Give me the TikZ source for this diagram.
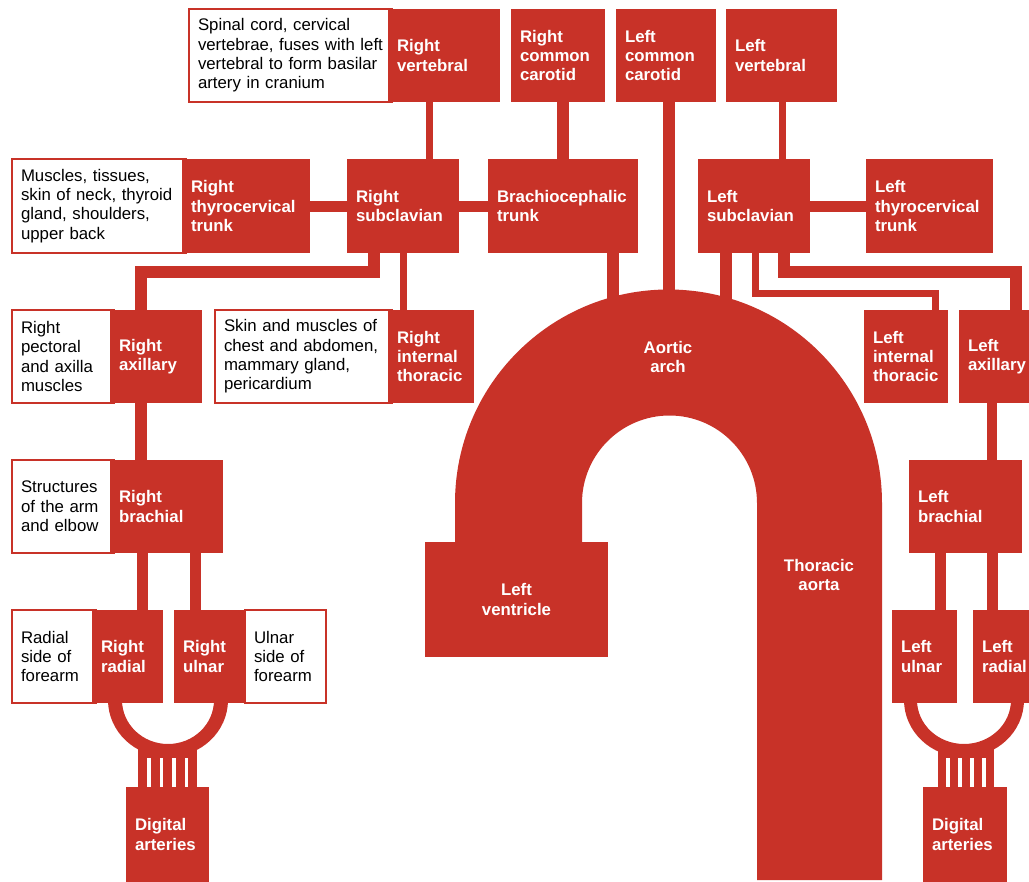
\documentclass[tikz,border=0pt]{standalone}
\usepackage{fontspec}
\setmainfont{Liberation Sans}
\definecolor{art}{RGB}{200,50,40}
\tikzset{
  basebox/.style={anchor=north west, inner xsep=9pt, inner ysep=0pt, outer sep=0pt},
  rbox/.style={basebox, fill=art, text=white, font=\bfseries\fontsize{16.8}{19.3}\selectfont, align=left},
  wbox/.style={basebox, draw=art, line width=1.5pt, fill=white, text=black, font=\fontsize{16.8}{19.3}\selectfont, align=left},
  wire/.style={draw=art, line width=12pt},
  thinwire/.style={draw=art, line width=7pt},
  atext/.style={text=white, font=\bfseries\fontsize{16.8}{19.3}\selectfont, align=center},
}
\newcommand\mkbox[7]{%
  \pgfmathsetmacro\bxw{#5-#3}%
  \pgfmathsetmacro\bxh{#6-#4}%
  \pgfmathsetmacro\bxt{#5-#3-18}%
  \node[#1, minimum width=\bxw pt, minimum height=\bxh pt, text width=\bxt pt] (#2) at (#3,#4) {#7};}
\begin{document}
\begin{tikzpicture}[x=1pt,y=-1pt]
\useasboundingbox (0,0) rectangle (1029,882);
\clip (0,0) rectangle (1029,882);
\fill[white] (0,0) rectangle (1029,882);

% aorta
\fill[art] (455,542) -- (455,503) arc[start angle=180, end angle=0, radius=213.5pt]
  -- (882,880) -- (757,880) -- (757,503) arc[start angle=0, end angle=180, radius=87.5pt]
  -- (582,542) -- cycle;
\coordinate (archtop) at (668,312);

% hands: rings and stems
\fill[art] (108,700) arc[start angle=180, end angle=360, x radius=60pt, y radius=57pt]
  -- (214,700) arc[start angle=0, end angle=-180, x radius=46pt, y radius=44pt] -- cycle;
\fill[art] (138,748) rectangle (197,788);
\foreach \sx in {147,159.5,172,184.5} {\fill[white] (\sx,758) rectangle (\sx+3.5,787);}
\fill[art] (904,700) arc[start angle=180, end angle=360, x radius=60pt, y radius=57pt]
  -- (1011,700) arc[start angle=0, end angle=-180, x radius=47pt, y radius=44pt] -- cycle;
\fill[art] (938,748) rectangle (994,788);
\foreach \sx in {946.4,958.3,970.2,982.1} {\fill[white] (\sx,758) rectangle (\sx+3.5,787);}

% boxes: top row
\mkbox{wbox}{rvdesc}{189}{9}{392}{102}{Spinal cord, cervical\\vertebrae, fuses with left\\vertebral to form basilar\\artery in cranium}
\mkbox{rbox}{rvert}{388}{9}{500}{102}{Right\\vertebral}
\mkbox{rbox}{rcc}{511}{9}{605}{102}{Right\\common\\carotid}
\mkbox{rbox}{lcc}{616}{9}{716}{102}{Left\\common\\carotid}
\mkbox{rbox}{lvert}{726}{9}{837}{102}{Left\\vertebral}

% second row
\mkbox{wbox}{rtcdesc}{12}{159}{186}{253}{Muscles, tissues,\\skin of neck, thyroid\\gland, shoulders,\\upper back}
\mkbox{rbox}{rtc}{182}{159}{310}{253}{Right\\thyrocervical\\trunk}
\mkbox{rbox}{rsub}{347}{159}{459}{253}{Right\\subclavian}
\mkbox{rbox}{bct}{488}{159}{638}{253}{Brachiocephalic\\trunk}
\mkbox{rbox}{lsub}{698}{159}{810}{253}{Left\\subclavian}
\mkbox{rbox}{ltc}{866}{159}{993}{253}{Left\\thyrocervical\\trunk}

% third row
\mkbox{wbox}{raxdesc}{12}{310}{114}{403}{Right\\pectoral\\and axilla\\muscles}
\mkbox{rbox}{rax}{110}{310}{202}{403}{Right\\axillary}
\mkbox{wbox}{ritdesc}{215}{310}{392}{403}{Skin and muscles of\\chest and abdomen,\\mammary gland,\\pericardium}
\mkbox{rbox}{rit}{388}{310}{474}{403}{Right\\internal\\thoracic}
\mkbox{rbox}{lit}{864}{310}{948}{403}{Left\\internal\\thoracic}
\mkbox{rbox}{lax}{959}{310}{1045}{403}{Left\\axillary}

% fourth row
\mkbox{wbox}{rbrdesc}{12}{460}{114}{553}{Structures\\of the arm\\and elbow}
\mkbox{rbox}{rbr}{110}{460}{223}{553}{Right\\brachial}
\mkbox{rbox}{lbr}{909}{460}{1022}{553}{Left\\brachial}

% fifth row
\mkbox{wbox}{rraddesc}{12}{610}{96}{703}{Radial\\side of\\forearm}
\mkbox{rbox}{rrad}{92}{610}{163}{703}{Right\\radial}
\mkbox{wbox}{rulndesc}{245}{610}{326}{703}{Ulnar\\side of\\forearm}
\mkbox{rbox}{ruln}{174}{610}{245}{703}{Right\\ulnar}
\mkbox{rbox}{luln}{892}{610}{957}{703}{Left\\ulnar}
\mkbox{rbox}{lrad}{973}{610}{1045}{703}{Left\\radial}

% digital
\mkbox{rbox}{rdig}{126}{787}{209}{882}{Digital\\arteries}
\mkbox{rbox}{ldig}{923}{787}{1007}{882}{Digital\\arteries}

% left ventricle and aorta labels
\mkbox{rbox,align=center}{lv}{425}{542}{608}{657}{Left\\ventricle}
\node[atext] (arch) at (668,357) {Aortic\\arch};
\node[atext] (thor) at (819,575) {Thoracic\\aorta};

% connectors
\draw[thinwire] (429,0 |- rvert.south) -- (429,0 |- rsub.north);
\draw[wire] (563,0 |- rcc.south) -- (563,0 |- bct.north);
\draw[wire] (669,0 |- lcc.south) -- (669,0 |- archtop);
\draw[thinwire] (782,0 |- lvert.south) -- (782,0 |- lsub.north);
\draw[wire, line width=11pt] (rtc.east |- 0,207) -- (rsub.west |- 0,207);
\draw[wire, line width=11pt] (rsub.east |- 0,207) -- (bct.west |- 0,207);
\draw[wire, line width=11pt] (lsub.east |- 0,207) -- (ltc.west |- 0,207);
\draw[wire] (613,0 |- bct.south) -- (613,0 |- archtop);
\draw[wire] (726,0 |- lsub.south) -- (726,0 |- archtop);
\draw[wire] (374,0 |- rsub.south) -- (374,272) -- (141,272) -- (141,0 |- rax.north);
\draw[thinwire] (403.5,0 |- rsub.south) -- (403.5,0 |- rit.north);
\draw[thinwire] (755,0 |- lsub.south) -- (755,294) -- (935,294) -- (935,0 |- lit.north);
\draw[wire] (783.5,0 |- lsub.south) -- (783.5,272) -- (1016,272) -- (1016,0 |- lax.north);
\draw[wire] (141,0 |- rax.south) -- (141,0 |- rbr.north);
\draw[wire, line width=10pt] (992,0 |- lax.south) -- (992,0 |- lbr.north);
\draw[wire, line width=11pt] (142.5,0 |- rbr.south) -- (142.5,0 |- rrad.north);
\draw[wire, line width=11pt] (195,0 |- rbr.south) -- (195,0 |- ruln.north);
\draw[wire, line width=11pt] (940.5,0 |- lbr.south) -- (940.5,0 |- luln.north);
\draw[wire, line width=11pt] (992.5,0 |- lbr.south) -- (992.5,0 |- lrad.north);
\end{tikzpicture}
\end{document}
